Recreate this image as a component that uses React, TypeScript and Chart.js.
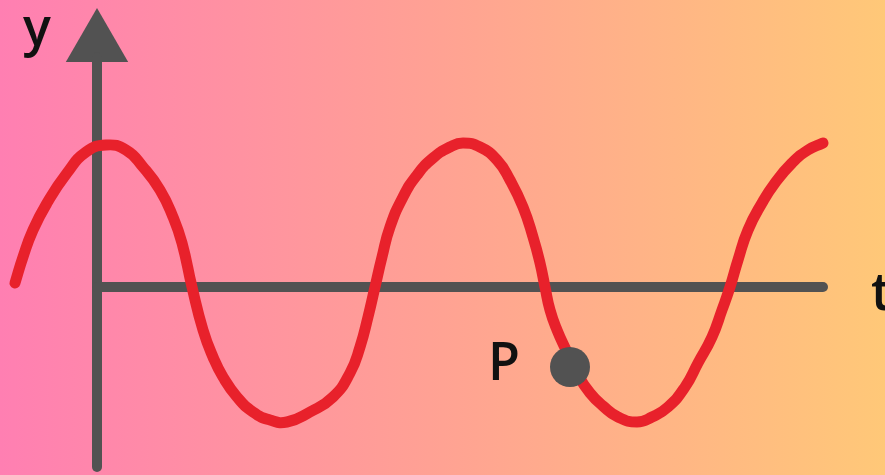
import React, { useEffect, useRef } from "react";
import { Chart, registerables } from "chart.js";

Chart.register(...registerables);

// Wave (t in arbitrary units, y = displacement)
const waveT = [
  -0.82, -0.74, -0.64, -0.5, -0.3, -0.11, 0.09, 0.29, 0.46, 0.63, 0.76, 0.85, 0.95,
  1.06, 1.16, 1.26, 1.4, 1.56, 1.73, 1.9, 2.13, 2.36, 2.53, 2.63, 2.71, 2.78,
  2.85, 2.93, 3.06, 3.2, 3.36, 3.53, 3.66, 3.83, 4.0, 4.13, 4.26, 4.36, 4.43, 4.48,
  4.53, 4.6, 4.7, 4.81, 4.93, 5.06, 5.21, 5.4, 5.55, 5.71, 5.88, 6.01, 6.15, 6.25, 6.33,
  6.41, 6.51, 6.65, 6.78, 6.95, 7.11, 7.26,
];
const waveY = [
  0.04, 0.3, 0.57, 0.84, 1.14, 1.35, 1.42, 1.37, 1.2, 0.97, 0.7, 0.44, 0,
  -0.43, -0.7, -0.9, -1.1, -1.25, -1.33, -1.35, -1.25, -1.1, -0.86, -0.6, -0.3, 0,
  0.3, 0.6, 0.9, 1.12, 1.29, 1.4, 1.44, 1.4, 1.27, 1.07, 0.8, 0.5, 0.24, 0,
  -0.23, -0.43, -0.65, -0.88, -1.06, -1.19, -1.3, -1.35, -1.3, -1.2, -1.0, -0.76, -0.5, -0.23, 0,
  0.27, 0.57, 0.84, 1.04, 1.24, 1.37, 1.44,
];

// Axes
const tAxisT = [0, 7.26];
const tAxisY = [0, 0];
const yAxisT = [0, 0];
const yAxisY = [-1.8, 2.3];
const arrowT = [0];
const arrowY = [2.43];

// Point P
const pointT = [4.73];
const pointY = [-0.8];

// Text labels
const labelText = ["y", "P", "t"];
const labelT = [-0.74, 3.91, 7.74];
const labelY = [2.42, -0.93, -0.23];

// Visible window
const tMin = -0.97;
const tMax = 7.88;
const yMin = -1.88;
const yMax = 2.87;

const GRAY = "#525252";
const RED = "#e8212b";

const zip = (xs: number[], ys: number[]) => xs.map((x, i) => ({ x, y: ys[i] }));

const bgPlugin = {
  id: "bgGradient",
  beforeDraw(chart: any) {
    const { ctx, width, height } = chart;
    const g = ctx.createLinearGradient(0, 0, width, 0);
    g.addColorStop(0, "#ff7fb2");
    g.addColorStop(0.5, "#ffa293");
    g.addColorStop(1, "#ffc878");
    ctx.save();
    ctx.fillStyle = g;
    ctx.fillRect(0, 0, width, height);
    ctx.restore();
  },
};

const labelPlugin = {
  id: "textLabels",
  afterDatasetsDraw(chart: any) {
    const { ctx, scales } = chart;
    ctx.save();
    ctx.fillStyle = "#111111";
    ctx.font = '600 52px "Open Sans"';
    ctx.textAlign = "left";
    ctx.textBaseline = "alphabetic";
    labelText.forEach((s, i) => {
      ctx.fillText(s, scales.x.getPixelForValue(labelT[i]), scales.y.getPixelForValue(labelY[i]));
    });
    ctx.restore();
  },
};

export default function App() {
  const ref = useRef<HTMLCanvasElement | null>(null);

  useEffect(() => {
    if (!ref.current) return;
    const chart = new Chart(ref.current, {
      type: "line",
      data: {
        datasets: [
          {
            label: "P",
            data: zip(pointT, pointY),
            pointRadius: 20,
            pointStyle: "circle",
            pointBackgroundColor: GRAY,
            pointBorderWidth: 0,
            showLine: false,
            clip: false,
            order: 0,
          },
          {
            label: "wave",
            data: zip(waveT, waveY),
            borderColor: RED,
            borderWidth: 11,
            borderCapStyle: "round",
            borderJoinStyle: "round",
            tension: 0.5,
            pointRadius: 0,
            fill: false,
            clip: false,
            order: 1,
          },
          {
            label: "t axis",
            data: zip(tAxisT, tAxisY),
            borderColor: GRAY,
            borderWidth: 10,
            borderCapStyle: "round",
            pointRadius: 0,
            fill: false,
            clip: false,
            order: 2,
          },
          {
            label: "y axis",
            data: zip(yAxisT, yAxisY),
            borderColor: GRAY,
            borderWidth: 10,
            borderCapStyle: "round",
            pointRadius: 0,
            fill: false,
            clip: false,
            order: 3,
          },
          {
            label: "arrow",
            data: zip(arrowT, arrowY),
            showLine: false,
            pointStyle: "triangle",
            pointRadius: 36,
            pointBackgroundColor: GRAY,
            pointBorderWidth: 0,
            clip: false,
            order: 4,
          },
        ],
      },
      options: {
        animation: false,
        responsive: false,
        maintainAspectRatio: false,
        devicePixelRatio: 1,
        events: [],
        layout: { padding: 0, autoPadding: false },
        plugins: {
          legend: { display: false },
          tooltip: { enabled: false },
        },
        scales: {
          x: { type: "linear", min: tMin, max: tMax, display: false },
          y: { type: "linear", min: yMin, max: yMax, display: false },
        },
      },
      plugins: [bgPlugin, labelPlugin],
    });
    if ((document as any).fonts && (document as any).fonts.load) {
      (document as any).fonts.load('600 52px "Open Sans"').then(() => chart.update()).catch(() => {});
    }
    return () => chart.destroy();
  }, []);

  return (
    <div style={{ position: "absolute", left: 0, top: 0, width: 885, height: 475 }}>
      <canvas ref={ref} width={885} height={475} />
    </div>
  );
}
